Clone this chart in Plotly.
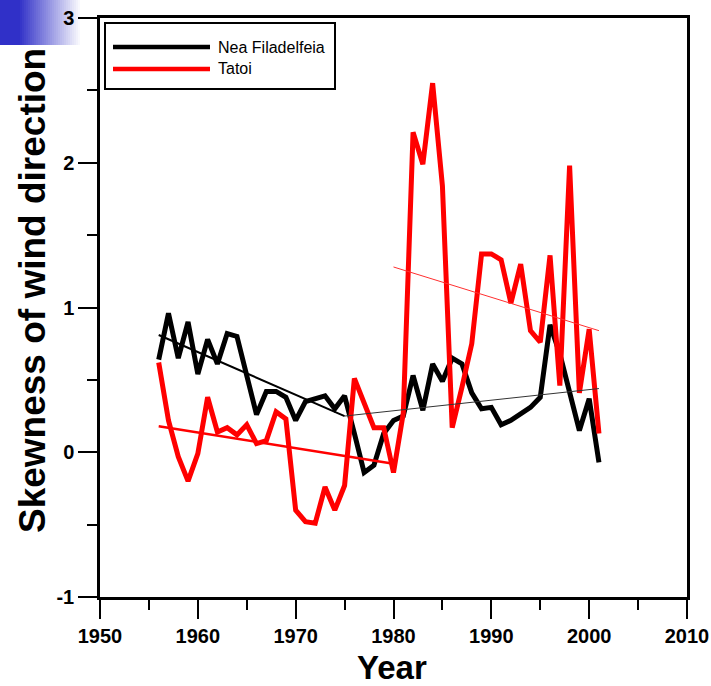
import plotly.graph_objects as go

# --- data ---
years = [1956, 1957, 1958, 1959, 1960, 1961, 1962, 1963, 1964, 1965,
         1966, 1967, 1968, 1969, 1970, 1971, 1972, 1973, 1974, 1975,
         1976, 1977, 1978, 1979, 1980, 1981, 1982, 1983, 1984, 1985,
         1986, 1987, 1988, 1989, 1990, 1991, 1992, 1993, 1994, 1995,
         1996, 1997, 1998, 1999, 2000, 2001]

nea_filadelfeia = [0.64, 0.96, 0.65, 0.90, 0.54, 0.78, 0.61, 0.82, 0.80, 0.52,
                   0.26, 0.42, 0.42, 0.38, 0.22, 0.35, 0.37, 0.39, 0.30, 0.39,
                   0.13, -0.14, -0.09, 0.13, 0.22, 0.25, 0.53, 0.29, 0.61, 0.49,
                   0.65, 0.61, 0.41, 0.30, 0.31, 0.19, 0.22, 0.26, 0.31, 0.38,
                   0.88, 0.68, 0.41, 0.15, 0.37, -0.07]

tatoi = [0.62, 0.22, -0.03, -0.20, -0.01, 0.38, 0.14, 0.17, 0.12, 0.19,
         0.06, 0.08, 0.28, 0.23, -0.40, -0.48, -0.49, -0.24, -0.40, -0.23,
         0.51, 0.34, 0.17, 0.17, -0.14, 0.27, 2.21, 1.99, 2.55, 1.84,
         0.17, 0.45, 0.75, 1.37, 1.37, 1.33, 1.03, 1.30, 0.84, 0.76,
         1.36, 0.46, 1.98, 0.41, 0.85, 0.13]

# linear trends (two periods each)
nea_trend1_years = [1956, 1975]
nea_trend1_values = [0.81, 0.25]
nea_trend2_years = [1975, 2001]
nea_trend2_values = [0.25, 0.44]
tatoi_trend1_years = [1956, 1980]
tatoi_trend1_values = [0.18, -0.08]
tatoi_trend2_years = [1980, 2001]
tatoi_trend2_values = [1.28, 0.84]

legend_labels = ["Nea Filadelfeia", "Tatoi"]
x_tickvals = [1950, 1960, 1970, 1980, 1990, 2000, 2010]
x_ticktext = ["1950", "1960", "1970", "1980", "1990", "2000", "2010"]
y_tickvals = [-1, 0, 1, 2, 3]
y_ticktext = ["-1", "0", "1", "2", "3"]

# --- figure geometry (pixels) ---
W, H = 711, 686
L, R, T, B = 100, 687, 18, 597


def px_x(p):
    return (p - L) / (R - L)


def px_y(p):
    return (B - p) / (B - T)


fig = go.Figure()

fig.add_trace(go.Scatter(x=years, y=nea_filadelfeia, mode="lines",
                         line=dict(color="black", width=5), name=legend_labels[0]))
fig.add_trace(go.Scatter(x=years, y=tatoi, mode="lines",
                         line=dict(color="#ff0000", width=5), name=legend_labels[1]))

fig.add_trace(go.Scatter(x=nea_trend1_years, y=nea_trend1_values, mode="lines",
                         line=dict(color="black", width=2)))
fig.add_trace(go.Scatter(x=nea_trend2_years, y=nea_trend2_values, mode="lines",
                         line=dict(color="#333333", width=1)))
fig.add_trace(go.Scatter(x=tatoi_trend1_years, y=tatoi_trend1_values, mode="lines",
                         line=dict(color="#ff0000", width=2.5)))
fig.add_trace(go.Scatter(x=tatoi_trend2_years, y=tatoi_trend2_values, mode="lines",
                         line=dict(color="#ff3030", width=1)))

shapes = []
# blue fading corner decoration
for p in range(0, 82, 2):
    t = min(1.0, max(0.0, (p - 18) / 62))
    r = int(48 + (255 - 48) * t)
    g = int(48 + (255 - 48) * t)
    b = int(200 + (255 - 200) * t)
    shapes.append(dict(type="rect", xref="paper", yref="paper",
                       x0=px_x(p), x1=px_x(p + 2.2), y0=px_y(45), y1=px_y(0),
                       fillcolor=f"rgb({r},{g},{b})", line=dict(width=0), layer="below"))

# legend box
shapes.append(dict(type="rect", xref="paper", yref="paper",
                   x0=px_x(105), x1=px_x(335), y0=px_y(89), y1=px_y(23),
                   fillcolor="white", line=dict(color="black", width=2)))
shapes.append(dict(type="line", xref="paper", yref="paper",
                   x0=px_x(113), x1=px_x(210), y0=px_y(47), y1=px_y(47),
                   line=dict(color="black", width=4.5)))
shapes.append(dict(type="line", xref="paper", yref="paper",
                   x0=px_x(113), x1=px_x(210), y0=px_y(69), y1=px_y(69),
                   line=dict(color="#ff0000", width=4.5)))

annotations = [
    dict(text=legend_labels[0], xref="paper", yref="paper", x=px_x(216), y=px_y(47),
         xanchor="left", yanchor="middle", showarrow=False,
         font=dict(family="Liberation Sans", size=16, color="black")),
    dict(text=legend_labels[1], xref="paper", yref="paper", x=px_x(216), y=px_y(69),
         xanchor="left", yanchor="middle", showarrow=False,
         font=dict(family="Liberation Sans", size=16, color="black")),
    dict(text="<b>Year</b>", xref="paper", yref="paper", x=px_x(392), y=px_y(667),
         xanchor="center", yanchor="middle", showarrow=False,
         font=dict(family="Liberation Sans", size=33, color="black")),
    dict(text="<b>Skewness of wind direction</b>", xref="paper", yref="paper",
         x=px_x(32), y=px_y(291), textangle=-90,
         xanchor="center", yanchor="middle", showarrow=False,
         font=dict(family="Liberation Sans", size=37, color="black")),
]

tick_font = dict(family="Liberation Sans", size=20, color="black", weight="bold")

fig.update_layout(
    width=W, height=H,
    margin=dict(l=L, r=W - R, t=T, b=H - B, pad=0),
    paper_bgcolor="white", plot_bgcolor="white",
    showlegend=False,
    shapes=shapes,
    annotations=annotations,
    xaxis=dict(range=[1950, 2010], tickmode="array", tickvals=x_tickvals, ticktext=x_ticktext,
               ticks="outside", ticklen=19, tickwidth=2, tickcolor="black",
               minor=dict(ticks="outside", ticklen=10, tickwidth=2, dtick=5, tick0=1950,
                          tickcolor="black", showgrid=False),
               showline=True, linewidth=2.5, linecolor="black", mirror=True,
               showgrid=False, zeroline=False, tickfont=tick_font, automargin=False),
    yaxis=dict(range=[-1, 3], tickmode="array", tickvals=y_tickvals, ticktext=y_ticktext,
               ticks="outside", ticklen=19, tickwidth=2, tickcolor="black",
               minor=dict(ticks="outside", ticklen=10, tickwidth=2, dtick=0.5, tick0=-1,
                          tickcolor="black", showgrid=False),
               showline=True, linewidth=2.5, linecolor="black", mirror=True,
               showgrid=False, zeroline=False, tickfont=tick_font, automargin=False),
)

# page body has a default margin; remove it so the figure sits at the window corner
fig.write_html("out.html", config={"displayModeBar": False},
               post_script="document.body.style.margin='0';")
